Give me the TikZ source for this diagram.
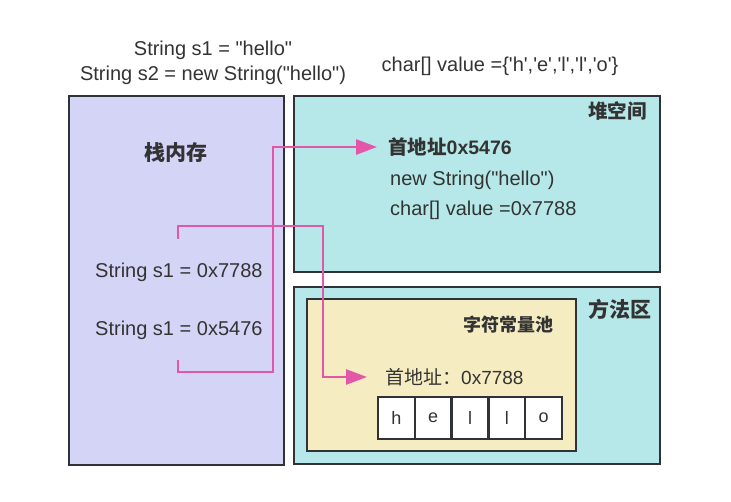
\documentclass[tikz,border=0pt]{standalone}
\usepackage{fontspec}
\setmainfont{Liberation Sans}[Ligatures=TeXOff]
\newfontfamily\cjk{Noto Sans CJK SC}
\usetikzlibrary{arrows.meta}
\definecolor{stackbg}{HTML}{D4D5F6}
\definecolor{heapbg}{HTML}{B6E8EA}
\definecolor{poolbg}{HTML}{F6ECC1}
\definecolor{frame}{HTML}{2F3337}
\definecolor{ink}{HTML}{333333}
\definecolor{ptrpink}{HTML}{E356A8}

\begin{document}
\begin{tikzpicture}[x=1pt,y=-1pt,
  area/.style={draw=frame,line width=2.5pt},
  txt/.style={inner sep=0pt,text=ink,font=\fontsize{20}{24}\selectfont},
  title/.style={inner sep=0pt,text=ink,font=\fontsize{21}{24}\selectfont\cjk\bfseries},
  addr/.style={txt,anchor=west,inner xsep=11pt},
  cell/.style={draw=frame,line width=2.5pt,fill=white,minimum width=36.8pt,minimum height=42pt,inner sep=0pt,text=ink,font=\fontsize{18}{20}\selectfont},
  ptr/.style={draw=ptrpink,line width=2.6pt,-{Triangle[length=21pt,width=15pt]}}]
\useasboundingbox (0,0) rectangle (731,501);

\draw[area,fill=stackbg] (69,96) rectangle (284,465);
\draw[area,fill=heapbg] (294,96) rectangle (660,272);
\draw[area,fill=heapbg] (294,287) rectangle (660,464);
\draw[area,fill=poolbg] (307,299) rectangle (576,451);

\node[txt] (code1) at (213,50) {String s1 = "hello"};
\node[txt] (code2) at (213,75) {String s2 = new String("hello")};
\node[txt] (chars) at (500,66) {char[] value =\{'h','e','l','l','o'\}};

\node[title] (stack) at (176,153) {栈内存};
\node[title,anchor=east,font=\fontsize{19.5}{24}\selectfont\cjk\bfseries] (heap) at (647,111) {堆空间};
\node[title,anchor=east] (method) at (652,309) {方法区};
\node[title,font=\fontsize{18}{24}\selectfont\cjk\bfseries] (pool) at (508,325) {字符常量池};

\node[addr,font=\fontsize{19.5}{24}\selectfont\bfseries] (addrA) at (377,147) {{\cjk 首地址}0x5476};
\node[txt,anchor=west] (newstr) at (390,180) {new String("hello")};
\node[txt,anchor=west] (valref) at (390,210) {char[] value =0x7788};

\node[txt,anchor=west] (s1a) at (95,272) {String s1 = 0x7788};
\node[txt,anchor=west] (s1b) at (95,330) {String s1 = 0x5476};

\node[addr,font=\fontsize{19}{24}\selectfont,inner xsep=18pt] (addrB) at (367,377) {{\cjk 首地址：}0x7788};

\foreach \c [count=\i] in {h,e,l,l,o}
  \node[cell] (cell\i) at ({378+36.8*(\i-0.5)},418) {\c};

\coordinate (fromA) at (178,239);
\coordinate (fromB) at (178,360);
\draw[ptr] (fromB) |- (273,372) |- (addrA.west);
\draw[ptr] (fromA) |- (323,226) |- (addrB.west);
\end{tikzpicture}
\end{document}
